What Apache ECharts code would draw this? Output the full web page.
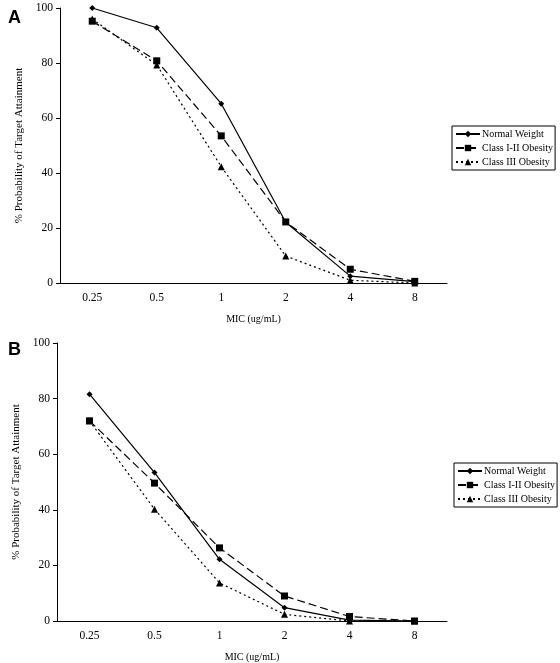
<!DOCTYPE html>
<html>
<head>
<meta charset="utf-8">
<script src="https://cdn.jsdelivr.net/npm/echarts@6/dist/echarts.min.js"></script>
<style>html,body{margin:0;padding:0;background:#fff}#c{width:560px;height:663px}</style>
</head>
<body>
<div id="c"></div>
<script>
var categories = ['0.25', '0.5', '1', '2', '4', '8'];
var seriesNames = ['Normal Weight', 'Class I-II Obesity', 'Class III Obesity'];
var yTicks = [0, 20, 40, 60, 80, 100];
// Panel A
var normalA = [100, 92.8, 65.2, 22.1, 2.5, 0.5];
var class12A = [95.2, 80.8, 53.5, 22.2, 5, 0.6];
var class3A = [96, 79.3, 42.3, 9.8, 1, 0];
// Panel B
var normalB = [81.6, 53.4, 22.2, 4.8, 0.3, 0];
var class12B = [72, 49.6, 26.3, 9, 1.6, 0];
var class3B = [72, 40.2, 13.7, 2.4, 0, 0];

var FONT = 'Liberation Serif';
var styles = [
  {symbol: 'diamond', symbolSize: 6, type: 'solid'},
  {symbol: 'rect', symbolSize: 7, type: [8, 4]},
  {symbol: 'triangle', symbolSize: 7, type: [2, 3]}
];

function makeSeries(data, idx, gi) {
  var s = styles[idx];
  return {
    name: seriesNames[idx], type: 'line', xAxisIndex: gi, yAxisIndex: gi,
    data: data, symbol: s.symbol, symbolSize: s.symbolSize, showAllSymbol: true,
    itemStyle: {color: '#000'},
    lineStyle: {color: '#000', width: 1.2, type: s.type},
    animation: false
  };
}

function xAxis(gi) {
  return {
    type: 'category', gridIndex: gi, data: categories, boundaryGap: true,
    axisLine: {lineStyle: {color: '#000', width: 1}}, axisTick: {show: false},
    axisLabel: {color: '#000', fontFamily: FONT, fontSize: 11.5, margin: 9},
    name: 'MIC (ug/mL)', nameLocation: 'middle', nameGap: 31,
    nameTextStyle: {color: '#000', fontFamily: FONT, fontSize: 10}
  };
}
function yAxis(gi) {
  return {
    type: 'value', gridIndex: gi, min: yTicks[0], max: yTicks[yTicks.length - 1], interval: 20,
    splitLine: {show: false},
    axisLine: {show: true, lineStyle: {color: '#000', width: 1}},
    axisTick: {show: true, length: 4, lineStyle: {color: '#000'}},
    axisLabel: {color: '#000', fontFamily: FONT, fontSize: 11.5, margin: 7},
    name: '% Probability of Target Attainment', nameLocation: 'middle', nameGap: 30,
    nameRotate: 90,
    nameTextStyle: {color: '#000', fontFamily: FONT, fontSize: 11}
  };
}
function legend(left, top) {
  return {
    data: seriesNames.map(function (n) { return {name: n}; }),
    left: left, top: top, orient: 'vertical', itemGap: 4,
    itemWidth: 24, itemHeight: 8,
    borderColor: '#000', borderWidth: 1, padding: [3, 2, 3, 3],
    textStyle: {color: '#000', fontFamily: FONT, fontSize: 10, padding: [0, 0, 0, -3]},
    backgroundColor: '#fff'
  };
}

var chart = echarts.init(document.getElementById('c'));
chart.setOption({
  backgroundColor: '#fff',
  title: [
    {text: 'A', left: 3, top: 4, textStyle: {fontFamily: 'Liberation Sans', fontWeight: 'bold', fontSize: 18, color: '#000'}},
    {text: 'B', left: 3, top: 336, textStyle: {fontFamily: 'Liberation Sans', fontWeight: 'bold', fontSize: 18, color: '#000'}}
  ],
  grid: [
    {left: 60, right: 113, top: 8, height: 275},
    {left: 57, right: 113, top: 343, height: 278}
  ],
  xAxis: [xAxis(0), xAxis(1)],
  yAxis: [yAxis(0), yAxis(1)],
  legend: [legend(452, 126), legend(454, 463)],
  series: [
    makeSeries(normalA, 0, 0), makeSeries(class12A, 1, 0), makeSeries(class3A, 2, 0),
    makeSeries(normalB, 0, 1), makeSeries(class12B, 1, 1), makeSeries(class3B, 2, 1)
  ]
});
</script>
</body>
</html>
